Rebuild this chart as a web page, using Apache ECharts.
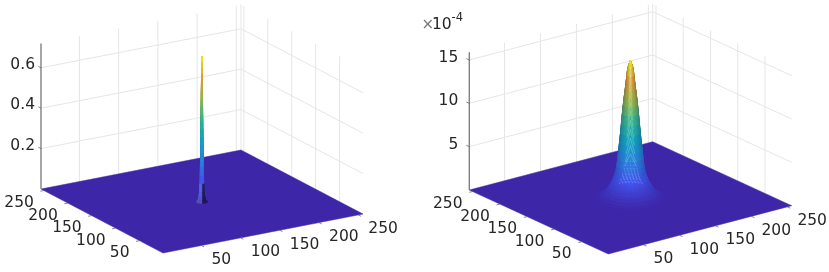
<!DOCTYPE html>
<html>
<head>
<meta charset="utf-8">
<style>html,body{margin:0;padding:0;background:#fff}#c{width:829px;height:272px}</style>
<script src="https://cdn.jsdelivr.net/npm/echarts@6/dist/echarts.min.js"></script>
</head>
<body>
<div id="c"></div>
<script>
// ---- chart values ----
const floorTicks = [50, 100, 150, 200, 250];
const floorLimits = [1, 256];
const zTicksLeft = [0.2, 0.4, 0.6];
const zTickLabelsLeft = ['0.2', '0.4', '0.6'];
const zTicksRight = [5, 10, 15];
const zTickLabelsRight = ['5', '10', '15'];
const peakCentre = [128, 128];
// radial profile of each surface: distance from the peak centre -> height
const radiiLeft = [0, 0.1, 0.2, 0.3, 0.4, 0.5, 0.6, 0.7, 0.8, 0.9, 1, 1.1, 1.2, 1.3, 1.4, 1.5, 1.6, 1.8, 2, 2.5, 3, 3.5, 4, 5, 6];
const heightsLeft = [0.72, 0.69, 0.66, 0.63, 0.6, 0.57, 0.54, 0.5, 0.47, 0.43, 0.4, 0.36, 0.32, 0.28, 0.24, 0.2, 0.17, 0.13, 0.09, 0.05, 0.03, 0.018, 0.01, 0.004, 0];
const radiiRight = [0, 1, 2, 3, 4, 5, 6, 7, 8, 9, 10, 11, 12, 13, 14, 15, 16, 17, 18, 19, 20, 21, 22, 23, 24, 26, 28, 31, 35, 40, 46];
const heightsRight = [15.9, 15.6, 15.3, 15.0, 14.1, 13.2, 12.4, 11.6, 10.7, 9.7, 8.6, 7.5, 6.5, 5.6, 4.6, 3.7, 3.2, 2.8, 2.5, 2.2, 2.0, 1.8, 1.6, 1.45, 1.3, 1.0, 0.8, 0.5, 0.25, 0.1, 0];
const parula = ['#3e26a8', '#4455ee', '#2c85e0', '#12a5c0', '#35b88c', '#98b840', '#e0a030', '#f0ee18'];

// ---- view geometry of the two panels ----
const panels = [
  {front: [163, 253], right: [363, 214], left: [41, 189], zPx: 202, zMax: 0.72,
   zTicks: zTicksLeft, zLabels: zTickLabelsLeft, zLabelGap: -6, zLabelDy: -3,
   radii: radiiLeft, heights: heightsLeft, steps: 24, chevrons: false, darkBelow: 0.1, sideShade: 0.12},
  {front: [608.3, 254], right: [791.7, 205.7], left: [469.3, 190], zPx: 8.667, zMax: 15.9,
   zTicks: zTicksRight, zLabels: zTickLabelsRight, zLabelGap: -11, zLabelDy: -2,
   radii: radiiRight, heights: heightsRight, steps: 64, chevrons: true, darkBelow: 0, sideShade: 0.32,
   multiplier: true}
];
const FONT = '"DejaVu Sans", sans-serif';
const TEXT = '#262626';
const GRID = '#e6e6e6';
const AXIS = '#808080';

function hex(c) { return [1, 3, 5].map(i => parseInt(c.substr(i, 2), 16)); }
function mix(a, b, t) { return a.map((v, i) => v + (b[i] - v) * t); }
function css(c) { return 'rgb(' + c.map(Math.round).join(',') + ')'; }
function colour(t) {
  const p = Math.max(0, Math.min(0.9999, t)) * (parula.length - 1), i = Math.floor(p);
  return mix(hex(parula[i]), hex(parula[i + 1]), p - i);
}

function buildPrims(P) {
  const span = floorLimits[1] - floorLimits[0];
  const ex = [(P.right[0] - P.front[0]) / span, (P.right[1] - P.front[1]) / span];
  const ey = [(P.left[0] - P.front[0]) / span, (P.left[1] - P.front[1]) / span];
  const lo = floorLimits[0], hi = floorLimits[1];
  const proj = (x, y, z) => [
    P.front[0] + (x - lo) * ex[0] + (y - lo) * ey[0],
    P.front[1] + (x - lo) * ex[1] + (y - lo) * ey[1] - z * P.zPx
  ];
  const prims = [];
  const line = (pts, stroke, w, dash) => prims.push({k: 'line', pts, stroke, w, dash});
  const text = (pos, s, align, size, fill) => prims.push({k: 'text', pos, s, align, size: size || 15.5, fill: fill || TEXT});

  // walls
  floorTicks.forEach(t => {
    line([proj(t, hi, 0), proj(t, hi, P.zMax)], GRID, 1);
    line([proj(hi, t, 0), proj(hi, t, P.zMax)], GRID, 1);
  });
  P.zTicks.forEach(t => line([proj(lo, hi, t), proj(hi, hi, t), proj(hi, lo, t)], GRID, 1));
  line([proj(hi, hi, 0), proj(hi, hi, P.zMax)], GRID, 1);

  // floor of the surface
  prims.push({k: 'poly', pts: [proj(lo, lo, 0), proj(hi, lo, 0), proj(hi, hi, 0), proj(lo, hi, 0)], fill: css(colour(0))});

  // peak, back to front
  const quads = [];
  const cx = peakCentre[0], cy = peakCentre[1];
  const downAngle = Math.atan2(-ey[1], -ex[1]);
  const rightAngle = Math.atan2(ey[0], ex[0]);
  const ring = (i, a) => proj(cx + P.radii[i] * Math.cos(a), cy + P.radii[i] * Math.sin(a), P.heights[i]);
  for (let r = 0; r < P.radii.length - 1; r++) {
    for (let s = 0; s < P.steps; s++) {
      const a0 = s / P.steps * 2 * Math.PI, a1 = (s + 1) / P.steps * 2 * Math.PI, am = (a0 + a1) / 2;
      const r0 = P.radii[r], r1 = P.radii[r + 1], z0 = P.heights[r], z1 = P.heights[r + 1], zm = (z0 + z1) / 2;
      const pts = [ring(r, a0), ring(r + 1, a0), ring(r + 1, a1), ring(r, a1)];
      let c = colour(zm / P.zMax);
      const sx = Math.cos(am - rightAngle);
      // steep flanks look darker: the mesh is packed tightly there
      const ramp = Math.min(1, zm / (P.zMax * 0.2));
      c = mix(c, [28, 22, 110], P.sideShade * sx * sx * ramp);
      if (P.darkBelow && zm < P.darkBelow) {
        c = sx > 0 ? mix(c, [14, 14, 50], 0.65) : mix(c, [150, 170, 235], 0.3);
      }
      const ry = (r0 + r1) / 2;
      quads.push({pts, c, depth: Math.cos(am) * ry * ex[1] + Math.sin(am) * ry * ey[1]});
    }
  }
  quads.sort((a, b) => a.depth - b.depth);
  quads.forEach(q => prims.push({k: 'poly', pts: q.pts, fill: css(q.c), stroke: css(q.c), w: 0.5}));

  // light mesh pattern on the face turned to the viewer
  if (P.chevrons) {
    for (let i = 3; i + 2 < 17; i++) {
      const half = 0.12 + 0.02 * i;
      line([ring(i + 2, downAngle - half), ring(i, downAngle), ring(i + 2, downAngle + half)], 'rgba(225,240,255,0.3)', 0.8);
    }
    for (let i = 15; i < 27; i++) {
      const pts = [];
      for (let a = -0.5; a <= 0.5; a += 0.05) pts.push(ring(i, downAngle + a));
      line(pts, 'rgba(185,190,255,0.5)', 0.9, [1, 2.2]);
    }
  }

  // axes and ticks
  line([proj(lo, hi, 0), proj(lo, hi, P.zMax)], AXIS, 1.4);
  const outX = [-ex[0] * 4.5, -ex[1] * 4.5], outY = [-ey[0] * 5.5, -ey[1] * 5.5];
  floorTicks.forEach(t => {
    const a = proj(t, lo, 0), b = proj(lo, t, 0);
    line([a, [a[0] + outY[0], a[1] + outY[1]]], '#666', 0.8);
    line([b, [b[0] + outX[0], b[1] + outX[1]]], '#666', 0.8);
    text([a[0] + 10, a[1] + 14.5], String(t), 'left');
    text([b[0] - 10, b[1] + 12.5], String(t), 'right');
  });
  P.zTicks.forEach((t, i) => {
    const a = proj(lo, hi, t);
    line([a, [a[0] + ey[0] * 5.5, a[1] + ey[1] * 5.5]], '#666', 0.8);
    text([a[0] + P.zLabelGap, a[1] + P.zLabelDy], P.zLabels[i], 'right');
  });
  if (P.multiplier) {
    text([421.5, 25], '×', 'left', 15, '#777');
    text([432, 24.5], '10', 'left', 15.5);
    text([451.5, 18], '-4', 'left', 11.5);
  }
  return prims;
}

const allPrims = panels.map(buildPrims);

function makeSeries(prims) {
  return {
    type: 'custom',
    coordinateSystem: 'cartesian2d',
    silent: true,
    animation: false,
    clip: false,
    encode: {x: 0, y: 1},
    data: prims.map((p, i) => {
      const a = p.pos || p.pts[0];
      return [a[0], a[1], i];
    }),
    renderItem: function (params, api) {
      const p = prims[api.value(2)];
      if (p.k === 'text') {
        const c = api.coord(p.pos);
        return {type: 'text', style: {x: c[0], y: c[1], text: p.s, fill: p.fill, align: p.align,
          verticalAlign: 'middle', font: p.size + 'px ' + FONT}};
      }
      const pts = p.pts.map(q => api.coord(q));
      if (p.k === 'line') {
        return {type: 'polyline', shape: {points: pts},
          style: {stroke: p.stroke, lineWidth: p.w, fill: 'none', lineDash: p.dash || null}};
      }
      return {type: 'polygon', shape: {points: pts},
        style: {fill: p.fill, stroke: p.stroke || p.fill, lineWidth: p.w || 0.5}};
    }
  };
}

const chart = echarts.init(document.getElementById('c'), null, {renderer: 'canvas'});
chart.setOption({
  animation: false,
  backgroundColor: '#ffffff',
  grid: {left: 0, right: 0, top: 0, bottom: 0},
  xAxis: {type: 'value', min: 0, max: 829, show: false},
  yAxis: {type: 'value', min: 0, max: 272, inverse: true, show: false},
  series: allPrims.map(makeSeries)
});
</script>
</body>
</html>
